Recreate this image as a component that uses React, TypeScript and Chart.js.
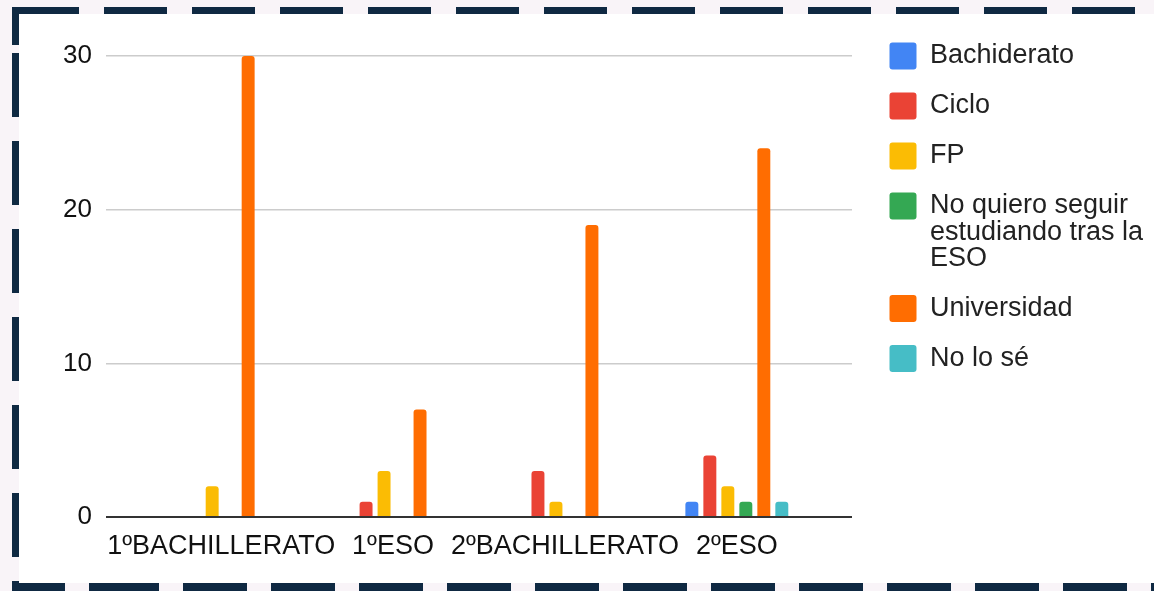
import { useEffect, useRef } from 'react'
import Chart from 'chart.js/auto'

// categories along the x axis
const categories = ['1ºBACHILLERATO', '1ºESO', '2ºBACHILLERATO', '2ºESO']

// series (one per legend entry)
const seriesNames = [
  'Bachiderato',
  'Ciclo',
  'FP',
  'No quiero seguir estudiando tras la ESO',
  'Universidad',
  'No lo sé',
]
const seriesColors = ['#4285f4', '#ea4335', '#fbbc04', '#34a853', '#ff6d01', '#46bdc6']

const bachiderato = [0, 0, 0, 1]
const ciclo = [0, 1, 3, 4]
const fp = [2, 3, 1, 2]
const noQuiero = [0, 0, 0, 1]
const universidad = [30, 7, 19, 24]
const noLoSe = [0, 0, 0, 1]

const yTicks = [0, 10, 20, 30]

// how the long legend label wraps
const legendLines: Record<string, string[]> = {
  'No quiero seguir estudiando tras la ESO': ['No quiero seguir', 'estudiando tras la', 'ESO'],
}

const FONT = '"Liberation Sans", Arial, sans-serif'
const TEXT = '#222222'
const NAVY = '#0f2942'

function BarChart() {
  const chartRef = useRef<HTMLCanvasElement>(null)
  const chartInstance = useRef<Chart | null>(null)

  useEffect(() => {
    if (!chartRef.current) return
    const ctx = chartRef.current.getContext('2d')
    if (!ctx) return

    if (chartInstance.current) {
      chartInstance.current.destroy()
    }

    const values = [bachiderato, ciclo, fp, noQuiero, universidad, noLoSe]

    chartInstance.current = new Chart(ctx, {
      type: 'bar',
      data: {
        datasets: seriesNames.map((name, s) => ({
          label: name,
          data: values[s].map((v, i) => ({ x: i, y: v })),
          backgroundColor: seriesColors[s],
          borderWidth: 0,
          borderRadius: 3,
          categoryPercentage: 0.628,
          barPercentage: 0.72,
        })),
      },
      options: {
        responsive: false,
        animation: false,
        layout: { padding: { left: 0, top: 5.5, right: 9.5, bottom: 0 } },
        plugins: {
          tooltip: { enabled: false },
          legend: {
            position: 'right',
            align: 'start',
            maxWidth: 278,
            labels: {
              boxWidth: 27,
              boxHeight: 27,
              padding: 23,
              color: TEXT,
              useBorderRadius: true,
              borderRadius: 3,
              font: { family: FONT, size: 27, lineHeight: 0.981 },
              generateLabels: (chart: Chart) =>
                Chart.defaults.plugins.legend.labels
                  .generateLabels(chart)
                  .map((item: any) => ({ ...item, text: legendLines[item.text] ?? item.text })),
            },
          },
        },
        scales: {
          x: {
            type: 'linear',
            offset: false,
            min: -0.67,
            max: 3.67,
            grid: { display: false },
            border: { display: false },
            ticks: {
              padding: 5.5,
              color: '#111111',
              font: { family: FONT, size: 27 },
              autoSkip: false,
              maxRotation: 0,
              callback: (value: any) => categories[value as number] ?? '',
            },
            afterBuildTicks: (axis: any) => {
              axis.ticks = categories.map((_, i) => ({ value: i }))
            },
            afterFit: (axis: any) => {
              axis.height = 66
              axis.paddingLeft = 0
              axis.paddingRight = 0
            },
          },
          y: {
            min: 0,
            max: 30,
            grid: {
              drawTicks: false,
              color: (c: any) => (c.tick && c.tick.value === 0 ? '#333333' : '#cccccc'),
              lineWidth: (c: any) => (c.tick && c.tick.value === 0 ? 2 : 1.5),
            },
            border: { display: false },
            ticks: {
              padding: 14,
              color: '#111111',
              font: { family: FONT, size: 26 },
            },
            afterBuildTicks: (axis: any) => {
              axis.ticks = yTicks.map(v => ({ value: v }))
            },
            afterFit: (axis: any) => {
              axis.width = 87
              axis.paddingTop = 42
              axis.paddingBottom = 0
            },
          },
          // empty gap between the plot and the legend
          gap: {
            type: 'linear',
            position: 'right',
            display: true,
            grid: { display: false },
            border: { display: false },
            ticks: { display: false },
            afterFit: (axis: any) => {
              axis.width = 14.5
            },
          },
        },
      },
    } as any)

    return () => {
      if (chartInstance.current) {
        chartInstance.current.destroy()
        chartInstance.current = null
      }
    }
  }, [])

  return <canvas ref={chartRef} width={1135} height={569} style={{ width: 1135, height: 569, display: 'block' }} />
}

const dash = (dir: 'right' | 'bottom', len: number) =>
  `repeating-linear-gradient(to ${dir}, ${NAVY} 0px, ${NAVY} ${len}px, transparent ${len}px, transparent 88px)`

export default function App() {
  return (
    <div
      style={{
        position: 'fixed',
        left: 0,
        top: 0,
        width: 1154,
        height: 591,
        background: '#f9f4f8',
        overflow: 'hidden',
      }}
    >
      <div style={{ position: 'absolute', left: 19, top: 14, width: 1200, height: 569, background: '#ffffff' }} />
      {/* dashed frame */}
      <div style={{ position: 'absolute', left: 12, top: 7, width: 1150, height: 7, background: dash('right', 63), backgroundPosition: '4px 0' }} />
      <div style={{ position: 'absolute', left: 12, top: 7, width: 7, height: 600, background: dash('bottom', 64), backgroundPosition: '0 46px' }} />
      <div style={{ position: 'absolute', left: 12, top: 583, width: 1150, height: 10, background: dash('right', 64), backgroundPosition: '83px 0' }} />
      <div style={{ position: 'absolute', left: 19, top: 14 }}>
        <BarChart />
      </div>
    </div>
  )
}
